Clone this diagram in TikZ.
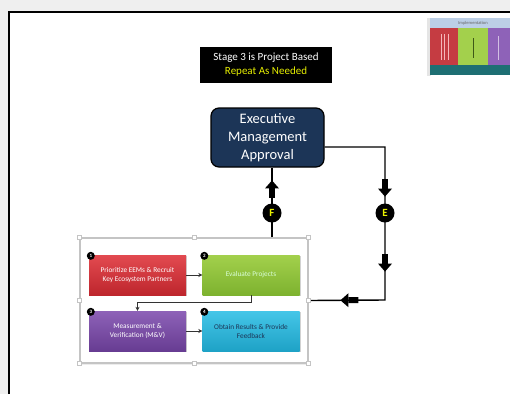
\documentclass[tikz,border=0pt]{standalone}
\usepackage{fontspec}
\setmainfont{Carlito}
\usetikzlibrary{arrows.meta,decorations.markings,shadows,calc}

\definecolor{pagegray}{HTML}{EFEFEF}
\definecolor{navy}{HTML}{1C3557}
\definecolor{badgeyellow}{HTML}{E8F000}
\definecolor{framegray}{HTML}{C4C4C4}
\definecolor{redtop}{HTML}{E24A50}
\definecolor{redbot}{HTML}{BE262D}
\definecolor{greentop}{HTML}{A3D04C}
\definecolor{greenbot}{HTML}{7DB22F}
\definecolor{purptop}{HTML}{8E62B8}
\definecolor{purpbot}{HTML}{673C92}
\definecolor{cyantop}{HTML}{45C6E8}
\definecolor{cyanbot}{HTML}{1EA2C6}
\definecolor{thumbhead}{HTML}{BCCFE6}
\definecolor{thumbteal}{HTML}{1E6F73}

% solid block arrow drawn along a path: shaft behind the mark, head ahead of it
\newcommand\blkarrow{\fill (-10,-3) rectangle (0,3); \fill (0,-7) -- (8,0) -- (0,7) -- cycle;}

\tikzset{
  conn/.style={line width=1.4pt, black},
  badge/.style={circle, fill=black, minimum size=19pt, inner sep=0pt,
    text=badgeyellow, font=\fontsize{11}{11}\selectfont\bfseries},
  numdot/.style={circle, fill=black, minimum size=8pt, inner sep=0pt,
    text=white, font=\fontsize{5}{5}\selectfont\bfseries},
  stepbox/.style={minimum width=97pt, minimum height=40pt, inner sep=1pt,
    align=center, text=white, font=\fontsize{7.3}{9}\selectfont,
    drop shadow={shadow xshift=1pt, shadow yshift=-1.2pt, opacity=.35}},
  handle/.style={draw=framegray, fill=white, minimum size=4pt, inner sep=0pt},
  innerarrow/.style={draw=black!80, line width=.9pt, -{Stealth[length=4pt,width=4pt]}},
}

\begin{document}
\begin{tikzpicture}[x=1pt,y=-1pt]
\useasboundingbox (0,0) rectangle (510,394);

% page background and slide
\fill[pagegray] (0,0) rectangle (510,394);
\fill[white] (9,12) rectangle (510,394);
\draw[line width=1.4pt] (9,394) -- (9,12) -- (510,12);

% thumbnail in the upper right corner
\fill[black!10] (427,18) rectangle (431,76);
\fill[thumbhead] (430,18) rectangle (510,28);
\node[font=\fontsize{4.5}{4.5}\selectfont, text=black!60] (thumbtitle) at (473,23) {Implementation};
\fill[redbot!90] (430,28) rectangle (458,65);
\fill[greentop] (458,28) rectangle (488,65);
\fill[purptop] (488,28) rectangle (510,65);
\fill[thumbteal] (430,65) rectangle (510,75);
\foreach \xx in {441,444.5,448}{\draw[white!60!redtop, line width=.35pt] (\xx,34) -- (\xx,60);}
\draw[black!50!greenbot, line width=.4pt] (473,38) -- (473,58);
\draw[white!60!purptop, line width=.4pt] (498,36) -- (498,60);

% title banner
\node[fill=black, minimum width=132pt, minimum height=36pt, align=center,
  font=\fontsize{11}{14}\selectfont] (banner) at (266,65)
  {\textcolor{white}{Stage 3 is Project Based}\\\textcolor{badgeyellow}{Repeat As Needed}};

% approval box
\node[draw=black, line width=1.2pt, fill=navy, rounded corners=8pt,
  minimum width=113pt, minimum height=59pt, align=center, text=white,
  font=\fontsize{14.5}{18}\selectfont] (exec) at (267.5,137.5)
  {Executive\\Management\\Approval};

% embedded process chart
\node[draw=framegray, line width=1.2pt, fill=white, minimum width=228pt,
  minimum height=125pt, drop shadow={shadow xshift=-1pt, shadow yshift=-1.5pt, opacity=.15}]
  (frame) at (194,300.5) {};
\foreach \pos in {north west,north,north east,west,east,south west,south,south east}
  {\node[handle] at (frame.\pos) {};}

\node[stepbox, top color=redtop, bottom color=redbot] (b1) at (137.5,275)
  {Prioritize EEMs \& Recruit\\Key Ecosystem Partners};
\node[stepbox, top color=greentop, bottom color=greenbot, text=white!85!green] (b2) at (251,275)
  {Evaluate Projects};
\node[stepbox, top color=purptop, bottom color=purpbot] (b3) at (137.5,331)
  {Measurement \&\\Verification (M\&V)};
\node[stepbox, top color=cyantop, bottom color=cyanbot, text=navy] (b4) at (251,331)
  {Obtain Results \& Provide\\Feedback};

\foreach \b/\n in {b1/1,b2/2,b3/3,b4/4}
  {\node[numdot] (n\n) at ([xshift=2pt,yshift=-1pt]\b.north west) {\n};}

\draw[innerarrow] (b1) -- (b2);
\draw[innerarrow] (b2.south) -- ++(0,7) -| (b3.north);
\draw[innerarrow] (b3) -- (b4);

% feedback loop to and from the approval box
\coordinate (fx) at (272,0);
\coordinate (ecorner) at (385,300);
\draw[conn, postaction={decorate}, decoration={markings,
    mark=at position 49pt with {\blkarrow}}]
  (frame.north -| fx) -- (exec.south -| fx);
\draw[conn, postaction={decorate}, decoration={markings,
    mark=at position 102pt with {\blkarrow},
    mark=at position 177pt with {\blkarrow},
    mark=at position 250pt with {\blkarrow}}]
  ([yshift=-9.5pt]exec.east) -| (ecorner) -- (frame.east);
\node[handle] at (frame.east) {};

\node[badge] (F) at (272,213) {F};
\node[badge] (E) at (385,213) {E};
\end{tikzpicture}
\end{document}
